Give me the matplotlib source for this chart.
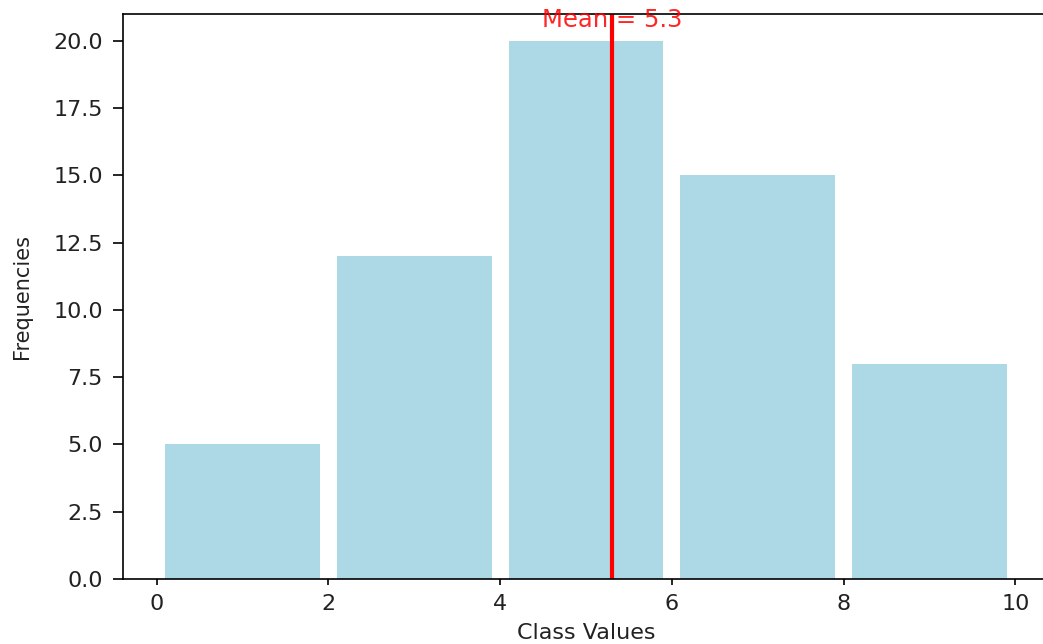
import matplotlib
matplotlib.use('Agg')
import matplotlib.pyplot as plt
import numpy as np

# class midpoints and their frequencies
class_values = [1, 3, 5, 7, 9]
frequencies = [5, 12, 20, 15, 8]
mean_value = 5.3

fig = plt.figure(figsize=(10.43, 6.44), dpi=100)
ax = fig.add_axes([123 / 1043, 1 - 579 / 644, (1049 - 123) / 1043, (579 - 14) / 644])

ax.bar(class_values, frequencies, width=1.8, color='lightblue')

# mean line
ax.axvline(mean_value, color='red', linewidth=3)
ax.text(mean_value, max(frequencies) + 0.5, f'Mean = {mean_value}', color='red',
        ha='center', fontsize=17.5, alpha=0.85)

ax.set_xticks([0, 2, 4, 6, 8, 10])
ax.set_yticks(np.arange(0, 22.5, 2.5))
ax.tick_params(labelsize=16, width=1.2, labelcolor='#222222')
ax.tick_params(axis='y', length=7.5, pad=7)
ax.tick_params(axis='x', length=4.5, pad=6)
for s in ax.spines.values():
    s.set_linewidth(1.2)

ax.set_xlabel('Class Values', fontsize=16, color='#222222', labelpad=7)
ax.set_ylabel('Frequencies', fontsize=15, color='#222222', labelpad=15)

fig.savefig('out.png', dpi=100)
